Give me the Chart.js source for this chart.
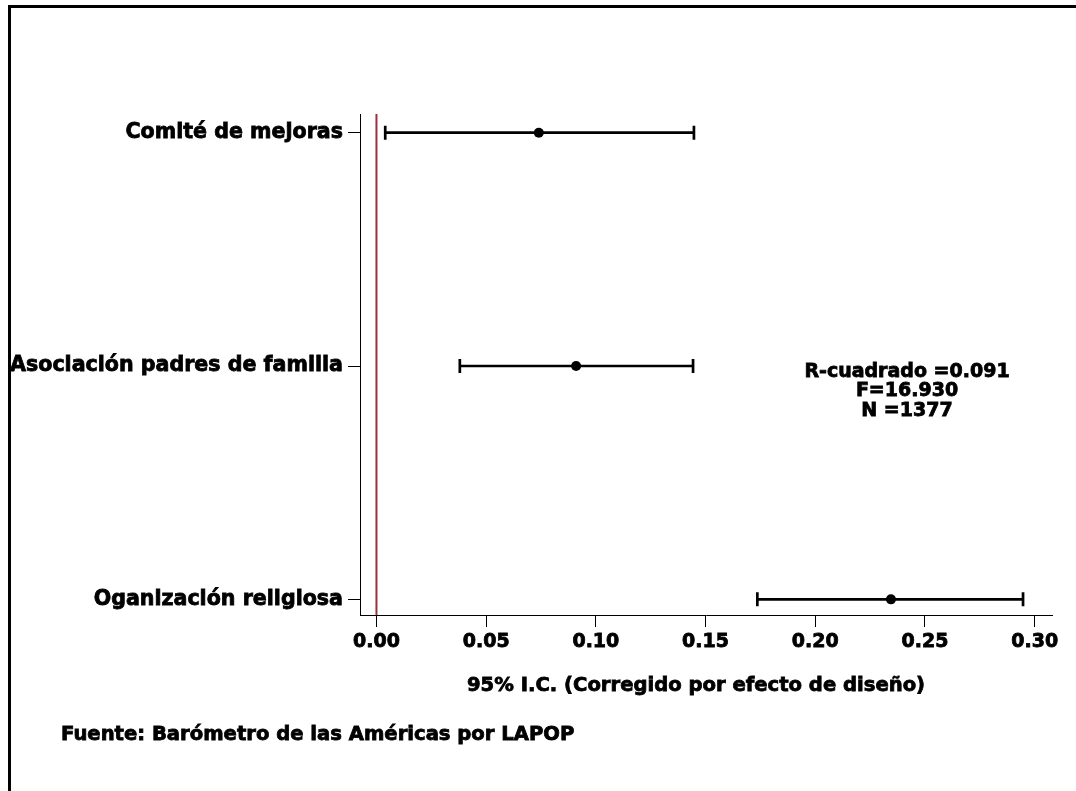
<!DOCTYPE html>
<html>
<head>
<meta charset="utf-8">
<title>Coeficientes</title>
<script src="https://cdn.jsdelivr.net/npm/chart.js@4"></script>
<style>
  html, body { margin: 0; padding: 0; background: #fff; }
  #wrap { width: 1076px; height: 791px; position: relative; }
</style>
</head>
<body>
<div id="wrap"><canvas id="grafico" width="1076" height="791"></canvas></div>
<script>
// datos
const categorias = ['Comité de mejoras', 'Asociación padres de familia', 'Oganización religiosa'];
const coeficientes = [0.074, 0.091, 0.2345];
const limiteInf = [0.004, 0.038, 0.1736];
const limiteSup = [0.1447, 0.1443, 0.2947];
const ticksX = [0.00, 0.05, 0.10, 0.15, 0.20, 0.25, 0.30];
const estadisticos = ['R-cuadrado =0.091', 'F=16.930', 'N =1377'];
const tituloX = '95% I.C. (Corregido por efecto de diseño)';
const fuente = 'Fuente: Barómetro de las Américas por LAPOP';

const FONT = '"DejaVu Sans", sans-serif';

// posicion vertical de cada categoria (la primera arriba)
const posY = categorias.map((c, i) => categorias.length - i);
const puntos = coeficientes.map((v, i) => ({ x: v, y: posY[i] }));

// texto con un trazo fino para que se vea mas grueso
function texto(c, t, x, y) {
    c.strokeText(t, x, y);
    c.fillText(t, x, y);
}

// barras de error, linea en cero y textos
const extras = {
    id: 'extras',
    beforeDraw(chart) {
        const c = chart.ctx;
        c.save();
        c.fillStyle = '#fff';
        c.fillRect(0, 0, chart.width, chart.height);
        c.strokeStyle = '#000';
        c.lineWidth = 3;
        c.strokeRect(9.5, 6.5, chart.width + 20, chart.height + 20);
        c.restore();
    },
    afterDatasetsDraw(chart) {
        const c = chart.ctx;
        const x = chart.scales.x;
        const y = chart.scales.y;
        const area = chart.chartArea;
        c.save();
        // linea de referencia en cero
        c.strokeStyle = '#9a2f3e';
        c.lineWidth = 2;
        c.beginPath();
        c.moveTo(x.getPixelForValue(0), area.top);
        c.lineTo(x.getPixelForValue(0), area.bottom);
        c.stroke();
        // intervalos de confianza
        c.strokeStyle = '#000';
        c.lineWidth = 2.7;
        for (let i = 0; i < categorias.length; i++) {
            const py = y.getPixelForValue(posY[i]);
            const x1 = x.getPixelForValue(limiteInf[i]);
            const x2 = x.getPixelForValue(limiteSup[i]);
            c.beginPath();
            c.moveTo(x1, py); c.lineTo(x2, py);
            c.moveTo(x1, py - 7); c.lineTo(x1, py + 7);
            c.moveTo(x2, py - 7); c.lineTo(x2, py + 7);
            c.stroke();
            c.fillStyle = '#000';
            c.beginPath();
            c.arc(x.getPixelForValue(coeficientes[i]), py, 5, 0, Math.PI * 2);
            c.fill();
        }
        c.restore();
    },
    afterDraw(chart) {
        const c = chart.ctx;
        c.save();
        c.fillStyle = '#000';
        c.strokeStyle = '#000';
        c.lineWidth = 0.8;
        c.textBaseline = 'middle';
        c.textAlign = 'center';
        c.font = 'bold 19px ' + FONT;
        estadisticos.forEach((t, i) => texto(c, t, 907, 372 + i * 19.5));
        c.font = 'bold 19.6px ' + FONT;
        texto(c, tituloX, 696, 686);
        c.textAlign = 'left';
        c.font = 'bold 19.6px ' + FONT;
        texto(c, fuente, 61, 735);
        c.restore();
    }
};

const ctx = document.getElementById('grafico').getContext('2d');
const grafico = new Chart(ctx, {
    type: 'scatter',
    data: {
        datasets: [{
            label: 'Coeficiente',
            data: puntos,
            pointRadius: 0,
            pointHoverRadius: 0,
            backgroundColor: '#000'
        }]
    },
    options: {
        responsive: false,
        animation: false,
        events: [],
        layout: { padding: { top: 114, right: 24, bottom: 0, left: 0 } },
        plugins: {
            legend: { display: false },
            tooltip: { enabled: false }
        },
        scales: {
            x: {
                type: 'linear',
                min: -0.0075,
                max: 0.3079,
                afterBuildTicks: s => { s.ticks = ticksX.map(v => ({ value: v })); },
                afterFit: s => { s.height = 176; },
                grid: { drawOnChartArea: false, drawTicks: true, tickLength: 12, color: '#000', lineWidth: 1 },
                border: { display: true, color: '#000', width: 1 },
                ticks: {
                    color: '#000',
                    font: { family: FONT, size: 19, weight: 'bold' },
                    textStrokeColor: '#000',
                    textStrokeWidth: 0.8,
                    padding: 4,
                    maxRotation: 0,
                    callback: v => Number(v).toFixed(2)
                }
            },
            y: {
                type: 'linear',
                min: 0.933,
                max: 3.080,
                afterBuildTicks: s => { s.ticks = posY.map(v => ({ value: v })); },
                afterFit: s => { s.width = 360; },
                grid: { drawOnChartArea: false, drawTicks: true, tickLength: 12, color: '#000', lineWidth: 1 },
                border: { display: true, color: '#000', width: 1 },
                ticks: {
                    color: '#000',
                    font: { family: FONT, size: 20.6, weight: 'bold' },
                    textStrokeColor: '#000',
                    textStrokeWidth: 0.8,
                    padding: 5,
                    callback: v => categorias[posY.indexOf(v)]
                }
            }
        }
    },
    plugins: [extras]
});
</script>
</body>
</html>
